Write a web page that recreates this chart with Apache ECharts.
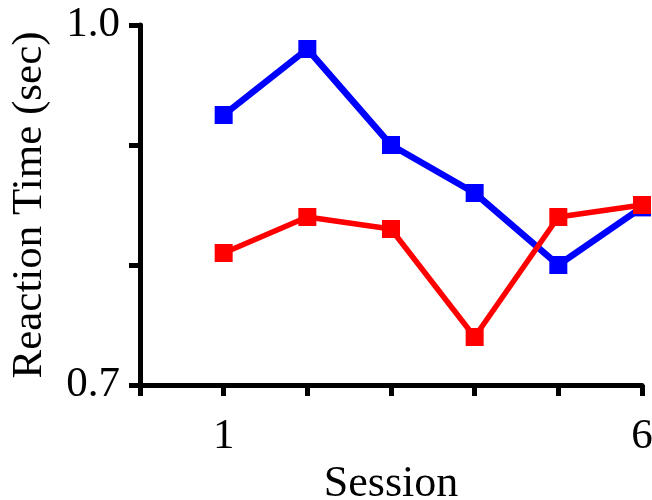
<!DOCTYPE html>
<html>
<head>
<meta charset="utf-8">
<script src="https://cdn.jsdelivr.net/npm/echarts@6/dist/echarts.min.js"></script>
<style>
  html, body { margin: 0; padding: 0; background: #fff; }
  #chart { width: 652px; height: 500px; }
</style>
</head>
<body>
<div id="chart"></div>
<script>
const sessions = [1, 2, 3, 4, 5, 6];
const blueTimes = [0.925, 0.98, 0.90, 0.86, 0.80, 0.848];
const redTimes = [0.81, 0.84, 0.83, 0.74, 0.84, 0.85];
const xTickLabels = [1, 6];
const yTickLabels = [0.7, 1.0];

const chart = echarts.init(document.getElementById('chart'));
const font = 'Liberation Serif';

// axis styling shared by both axes
const axisLine = { show: true, lineStyle: { color: '#000', width: 5 } };
const axisTick = { show: true, length: 11, lineStyle: { color: '#000', width: 5 } };

const option = {
  backgroundColor: '#fff',
  animation: false,
  grid: { left: 140, right: 10, top: 25, bottom: 115, containLabel: false, outerBoundsMode: 'none' },
  xAxis: {
    type: 'value',
    min: 0,
    max: 6,
    interval: 1,
    name: 'Session',
    nameLocation: 'middle',
    nameGap: 75,
    nameTextStyle: { fontFamily: font, fontSize: 44, color: '#000' },
    axisLine: axisLine,
    axisTick: axisTick,
    splitLine: { show: false },
    axisLabel: {
      margin: 30,
      fontFamily: font,
      fontSize: 43,
      color: '#000',
      formatter: v => (xTickLabels.includes(v) ? String(v) : '')
    }
  },
  yAxis: {
    type: 'value',
    min: 0.7,
    max: 1.0,
    interval: 0.1,
    name: 'Reaction Time (sec)',
    nameLocation: 'middle',
    nameGap: 89,
    nameTextStyle: { fontFamily: font, fontSize: 43, color: '#000' },
    axisLine: axisLine,
    axisTick: axisTick,
    splitLine: { show: false },
    axisLabel: {
      margin: 20,
      fontFamily: font,
      fontSize: 43,
      color: '#000',
      formatter: v => {
        const r = Math.round(v * 10) / 10;
        return yTickLabels.includes(r) ? r.toFixed(1) : '';
      }
    }
  },
  series: [
    {
      type: 'line',
      data: sessions.map((s, i) => [s, blueTimes[i]]),
      symbol: 'rect',
      symbolSize: 18,
      lineStyle: { color: '#0000ff', width: 6.5 },
      itemStyle: { color: '#0000ff' },
      z: 2
    },
    {
      type: 'line',
      data: sessions.map((s, i) => [s, redTimes[i]]),
      symbol: 'rect',
      symbolSize: 18,
      lineStyle: { color: '#ff0000', width: 5.5 },
      itemStyle: { color: '#ff0000' },
      z: 3
    }
  ]
};

chart.setOption(option);
</script>
</body>
</html>
